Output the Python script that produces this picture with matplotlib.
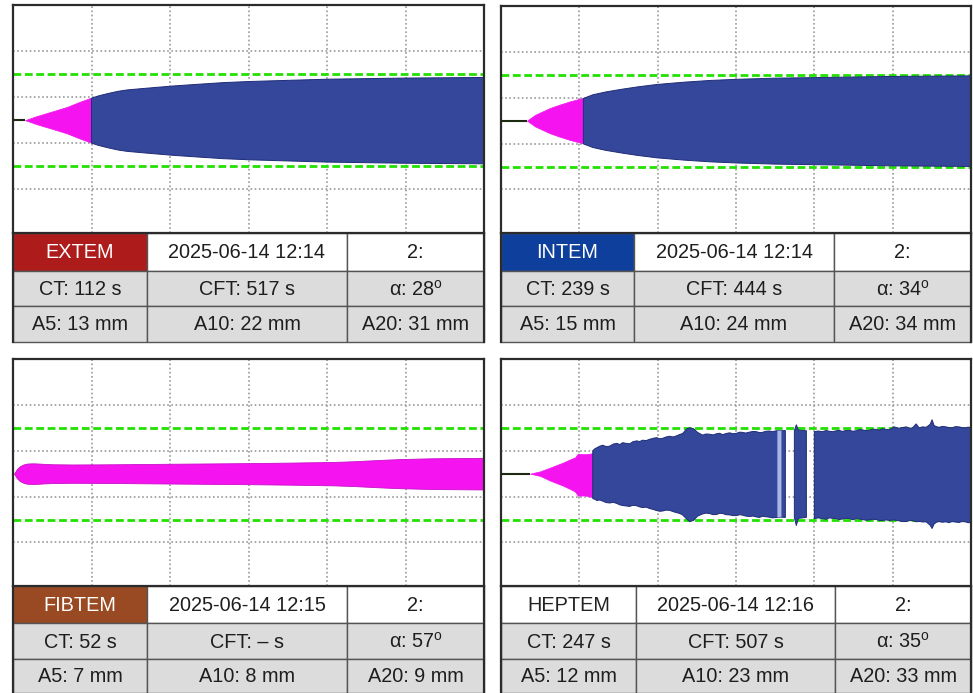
#!/usr/bin/env python3
# plot.py - ROTEM style amplitude panels with result tables

import numpy as np
import matplotlib
matplotlib.use("Agg", force=True)
import matplotlib.pyplot as plt
from matplotlib.patches import Rectangle

plt.rcParams["font.family"] = ["Liberation Sans", "DejaVu Sans"]
plt.rcParams["mathtext.fontset"] = "custom"
plt.rcParams["mathtext.rm"] = "Liberation Sans"

# ─── TABLE VALUES ──────────────────────────────────────────────────────────────
labels      = ["EXTEM", "INTEM", "FIBTEM", "HEPTEM"]
dates       = ["2025-06-14 12:14", "2025-06-14 12:14", "2025-06-14 12:15", "2025-06-14 12:16"]
channel     = ["2:", "2:", "2:", "2:"]
ct_s        = [112, 239, 52, 247]
cft_s       = [517, 444, None, 507]
alpha_deg   = [28, 34, 57, 35]
a5_mm       = [13, 15, 7, 12]
a10_mm      = [22, 24, 8, 23]
a20_mm      = [31, 34, 9, 33]
label_bg    = ["#ad1b1b", "#0f3f9c", "#9a4a22", "#ffffff"]
label_fg    = ["white", "white", "white", "#222222"]

# ─── CURVES (time in s, amplitude in mm) ──────────────────────────────────────
extem_t   = [92, 180, 283, 413, 500, 596, 650, 720, 800, 871, 1000, 1208, 1400,
             1600, 1804, 2100, 2400, 3000, 3600]
extem_amp = [0, 3.5, 7, 11.5, 15.5, 19.5, 21.5, 23.5, 25.5, 26.7, 28, 30, 31.5,
             33, 34, 35, 36, 37, 37.5]
extem_firm = 596

intem_t   = [199, 260, 374, 450, 527, 627, 700, 800, 932, 1050, 1192, 1400, 1600,
             1804, 2100, 2415, 3000, 3600]
intem_amp = [0, 5, 11, 14, 16.8, 19.8, 23, 25.5, 28, 30, 32, 34, 35.5,
             36.5, 37.5, 38, 39, 39.5]
intem_firm = 627

fibtem_t   = [8, 30, 53, 80, 107, 150, 183, 240, 300, 450, 665, 900, 1177, 1500,
              1811, 2100, 2446, 2600, 2705, 2850, 2958, 3200, 3600]
fibtem_amp = [0, 4.0, 6.5, 8.0, 8.8, 9.0, 8.9, 8.5, 8.2, 8.0, 8.1, 8.3, 8.6, 8.9,
              9.2, 9.6, 10.2, 10.8, 11.4, 12.2, 12.7, 13.4, 13.8]

# HEPTEM is ragged: upper / lower half widths (mm), nan = gap in trace
heptem_pink_t   = [222, 300, 375, 474, 540, 566, 589, 640, 680, 703]
heptem_pink_top = [0, 1.0, 2.6, 4.8, 6.5, 7.0, 8.7, 8.5, 8.7, 9.0]
heptem_pink_bot = [0, 1.0, 3.0, 5.2, 7.0, 7.8, 9.6, 9.5, 10.0, 10.2]

heptem_t = [703, 720, 734, 757, 780, 805, 833, 860, 887, 910, 932, 960, 986, 1010, 1039,
            1062, 1085, 1110, 1139, 1165, 1192, 1215, 1238, 1265, 1292, 1320,
            1345, 1370, 1391, 1422, 1445, 1475, 1506, 1544, 1570, 1597, 1625, 1651,
            1675, 1697, 1725, 1750, 1780, 1804, 1830, 1850, 1875, 1903, 1930, 1957,
            1980, 2002, 2030, 2056, 2080, 2109, 2148, 2178, 2210,
            2247, 2262, 2278, 2339, 2370,
            2400, 2430, 2461, 2490, 2515, 2540, 2568, 2590, 2614, 2640, 2667, 2695,
            2721, 2745, 2767, 2795, 2820, 2845, 2874, 2900, 2920, 2950,
            2973, 3011, 3049, 3075, 3103, 3130, 3149, 3180, 3202, 3230, 3256, 3287,
            3302, 3317, 3335, 3355, 3380, 3409, 3430, 3455, 3480, 3508, 3530, 3554,
            3580, 3600]
heptem_top = [10.0, 10.9, 11.3, 12.0, 12.4, 11.8, 12.0, 12.9, 13.2, 12.7, 13.5, 13.2, 13.0,
              13.9, 14.3, 14.0, 14.6, 14.4, 15.0, 15.4, 15.7, 15.2, 15.4, 16.0, 16.3,
              16.0, 16.5, 17.1, 17.5, 19.5, 20.0, 19.6, 18.0, 16.8, 17.3, 17.2, 16.9,
              17.4, 17.6, 17.0, 17.5, 17.8, 17.4, 17.6, 18.1, 18.0, 17.7, 18.1, 18.4,
              18.3, 17.9, 18.0, 18.5, 18.6, 18.3, 18.7, 18.7, 18.8, np.nan,
              18.7, 21.3, 19.0, 18.7, np.nan,
              18.3, 18.6, 18.3, 18.8, 18.5, 18.3, 18.7, 18.9, 18.4, 18.8, 18.9, 18.5,
              18.7, 19.2, 19.1, 18.8, 18.9, 19.4, 19.3, 19.0, 19.6, 19.3,
              19.1, 20.4, 19.8, 20.1, 20.4, 19.9, 19.8, 21.7, 20.0, 20.4, 20.2, 21.5,
              23.5, 21.0, 20.5, 20.2, 20.6, 20.4, 20.1, 20.0, 20.5, 20.4, 20.1, 20.0,
              20.3, 20.0]
heptem_bot = [10.9, 11.2, 11.7, 11.5, 12.0, 12.6, 12.8, 12.5, 13.0, 13.6, 13.9, 14.1, 14.3,
              13.8, 14.0, 14.5, 14.8, 14.6, 15.2, 15.6, 16.1, 16.4, 16.3, 15.9, 16.0,
              16.6, 17.0, 17.4, 18.0, 19.8, 20.9, 20.4, 18.5, 17.6, 17.2, 17.4, 17.9,
              17.8, 17.3, 17.4, 17.9, 18.0, 18.3, 18.3, 17.9, 18.1, 18.5, 18.7, 18.5,
              18.9, 19.1, 18.6, 18.8, 19.0, 19.3, 19.1, 19.0, 19.1, np.nan,
              19.1, 22.6, 19.5, 19.1, np.nan,
              19.6, 19.3, 19.6, 19.9, 19.3, 19.5, 19.6, 20.0, 19.8, 19.5, 19.6, 20.1,
              19.6, 19.8, 20.0, 20.3, 20.2, 19.9, 20.0, 20.5, 20.4, 20.2,
              20.4, 20.2, 20.6, 20.9, 20.9, 20.5, 20.4, 21.0, 20.8, 21.1, 21.0, 22.5,
              23.9, 22.0, 21.2, 20.9, 21.2, 21.0, 21.4, 20.9, 21.1, 21.3, 20.9, 21.0,
              21.4, 21.3]
heptem_light = (2117, 2148)     # pale stripe before the first gap

# ─── STYLE ─────────────────────────────────────────────────────────────────────
W, H = 973, 693
BLUE, PINK, LIGHT = "#35479a", "#f514ef", "#a9b6e6"
GREEN, GRAY, FRAME = "#22e000", "#9a9a9a", "#2b2b2b"
TXT = "#1e1e1e"

# panel layout in pixels: plot box x0, x1, y0, y1 ; table column splits ; row splits
PANELS = [
    dict(x0=13,  x1=484, y0=5,   y1=233, cols=[13, 147, 347, 484],  rows=[233, 271, 306, 342]),
    dict(x0=501, x1=971, y0=6,   y1=233, cols=[501, 634, 834, 971], rows=[233, 271, 306, 342]),
    dict(x0=13,  x1=484, y0=359, y1=586, cols=[13, 147, 347, 484],  rows=[586, 623, 659, 693]),
    dict(x0=501, x1=971, y0=359, y1=586, cols=[501, 636, 835, 971], rows=[586, 623, 659, 693]),
]

fig = plt.figure(figsize=(W / 100, H / 100), dpi=100)
fig.patch.set_facecolor("white")


def px_axes(x0, x1, y0, y1):
    return fig.add_axes([x0 / W, 1 - y1 / H, (x1 - x0) / W, (y1 - y0) / H])


def setup_plot(ax):
    ax.set_xlim(0, 3600)
    ax.set_ylim(-49, 50)
    ax.set_xticks([])
    ax.set_yticks([])
    for s in ax.spines.values():
        s.set_linewidth(1.6)
        s.set_color(FRAME)
    for gx in range(600, 3600, 600):
        ax.axvline(gx, color=GRAY, lw=1.2, ls=(0, (1, 1.5)), zorder=1)
    for gy in (-30, -10, 10, 30):
        ax.axhline(gy, color=GRAY, lw=1.2, ls=(0, (1, 1.5)), zorder=1)
    for gy in (-20, 20):
        ax.axhline(gy, color=GREEN, lw=2.0, ls=(0, (2.8, 1.3)), zorder=1.5)


def center_line(ax, t_start):
    ax.plot([0, t_start], [0, 0], color="#1c2a10", lw=1.5, zorder=3, solid_capstyle="butt")


def draw_symmetric(ax, t, amp, firm):
    t = np.asarray(t, float)
    half = np.asarray(amp, float) / 2
    center_line(ax, t[0])
    if firm is None:
        ax.fill_between(t, -half, half, facecolor=PINK, edgecolor="#c810c8", lw=0.6, zorder=2)
        return
    p = t <= firm
    b = t >= firm
    ax.fill_between(t[p], -half[p], half[p], facecolor=PINK, edgecolor=PINK, lw=0.5, zorder=2)
    ax.fill_between(t[b], -half[b], half[b], facecolor=BLUE, edgecolor="#1f2c78", lw=0.7, zorder=2)


def draw_heptem(ax):
    center_line(ax, heptem_pink_t[0])
    pt = np.asarray(heptem_pink_t, float)
    ax.fill_between(pt, -np.asarray(heptem_pink_bot), heptem_pink_top,
                    facecolor=PINK, edgecolor=PINK, lw=0.5, zorder=2)
    bt = np.asarray(heptem_t, float)
    top = np.asarray(heptem_top, float)
    bot = np.asarray(heptem_bot, float)
    ax.fill_between(bt, -bot, top, facecolor=BLUE, edgecolor="#1f2c78", lw=0.7, zorder=2)
    ok = ~np.isnan(top)
    lt = np.array(heptem_light, float)
    lt_top = np.interp(lt, bt[ok], top[ok])
    lt_bot = np.interp(lt, bt[ok], bot[ok])
    ax.fill_between(lt, -lt_bot, lt_top, facecolor=LIGHT, edgecolor="none", zorder=2.2)


def alpha_text(a):
    return "α: %d$^{\\mathregular{o}}$" % a


def draw_table(tax, i, pan):
    cols, rows = pan["cols"], pan["rows"]
    cft = "–" if cft_s[i] is None else str(cft_s[i])
    cells = [
        [labels[i], dates[i], channel[i]],
        [f"CT: {ct_s[i]} s", f"CFT: {cft} s", alpha_text(alpha_deg[i])],
        [f"A5: {a5_mm[i]} mm", f"A10: {a10_mm[i]} mm", f"A20: {a20_mm[i]} mm"],
    ]
    for r in range(3):
        for c in range(3):
            if r == 0:
                bg = label_bg[i] if c == 0 else "white"
                fg = label_fg[i] if c == 0 else TXT
            else:
                bg, fg = "#dcdcdd", TXT
            x0, x1 = cols[c], cols[c + 1]
            y0, y1 = rows[r], rows[r + 1]
            tax.add_patch(Rectangle((x0, y0), x1 - x0, y1 - y0, facecolor=bg,
                                    edgecolor="#555555", lw=1.0, zorder=1))
            tax.text((x0 + x1) / 2, (y0 + y1) / 2 + 1, cells[r][c], ha="center", va="center",
                     fontsize=14.3, color=fg, zorder=3)
    # thicker outer sides
    tax.plot([cols[0], cols[0]], [rows[0], rows[-1]], color=FRAME, lw=1.6, zorder=4)
    tax.plot([cols[-1], cols[-1]], [rows[0], rows[-1]], color=FRAME, lw=1.6, zorder=4)


for i, pan in enumerate(PANELS):
    ax = px_axes(pan["x0"], pan["x1"], pan["y0"], pan["y1"])
    setup_plot(ax)
    if i == 0:
        draw_symmetric(ax, extem_t, extem_amp, extem_firm)
    elif i == 1:
        draw_symmetric(ax, intem_t, intem_amp, intem_firm)
    elif i == 2:
        draw_symmetric(ax, fibtem_t, fibtem_amp, None)
    else:
        draw_heptem(ax)

tax = fig.add_axes([0, 0, 1, 1], zorder=-1)
tax.set_xlim(0, W)
tax.set_ylim(H, 0)
tax.axis("off")
for i, pan in enumerate(PANELS):
    draw_table(tax, i, pan)

fig.savefig("out.png", dpi=100, facecolor="white")
